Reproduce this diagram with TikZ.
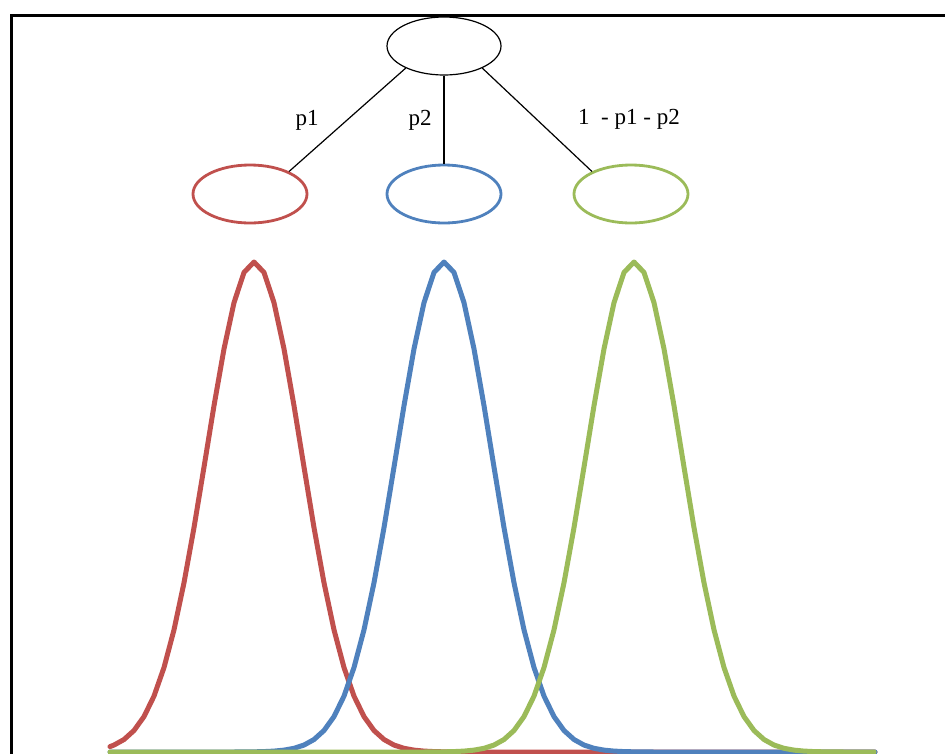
\documentclass[tikz,border=0pt]{standalone}
\usepackage{fontspec}
\setmainfont{Liberation Serif}
\usetikzlibrary{shapes.geometric}
\definecolor{xred}{HTML}{C0504D}
\definecolor{xblue}{HTML}{4F81BD}
\definecolor{xgreen}{HTML}{9BBB59}
\begin{document}
\begin{tikzpicture}[x=1pt,y=-1pt,
  oval/.style={ellipse,draw,minimum width=114pt,minimum height=58pt,inner sep=0pt},
  curve/.style={line width=5pt,line cap=round,line join=round},
  lab/.style={font=\fontsize{23}{26}\selectfont,inner sep=0pt}]
\useasboundingbox (0,0) rectangle (945,753);
\draw[line width=3pt] (11,760) -- (11,15) -- (950,15);
% tree
\node[oval,line width=1.2pt] (root) at (444,46) {};
\node[oval,draw=xred,line width=2.8pt] (r) at (250,194) {};
\node[oval,draw=xblue,line width=2.8pt] (b) at (444,194) {};
\node[oval,draw=xgreen,line width=2.8pt] (g) at (631,194) {};
\draw[line width=1.2pt] (root.210) -- (r.30);
\draw[line width=1.2pt] (root.south) -- (b.north);
\draw[line width=1.2pt] (root.330) -- (g.150);
\node[lab] (l1) at (307,120) {p1};
\node[lab] (l2) at (420,120) {p2};
\node[lab] (l3) at (629,119) {1\ \ - p1 - p2};
% gaussians
\draw[curve,xred] (110,746.6) -- plot[samples at={114,124,...,544}]
  (\x,{752-490*exp(max(-12,-0.5*((\x-254)/48)^2))}) -- (875,752);
\draw[curve,xblue] (110,752) -- plot[samples at={154,164,...,734}]
  (\x,{752-490*exp(max(-12,-0.5*((\x-444)/48)^2))}) -- (875,752);
\draw[curve,xgreen] (110,752) -- plot[samples at={344,354,...,874}]
  (\x,{752-490*exp(max(-12,-0.5*((\x-634)/48)^2))});
\end{tikzpicture}
\end{document}
